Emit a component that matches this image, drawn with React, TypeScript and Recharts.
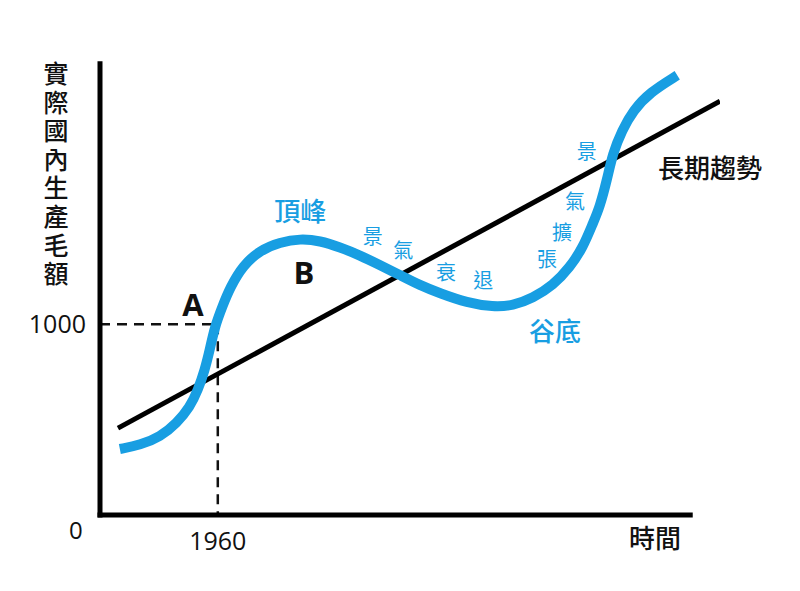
import React from "react";
import { ComposedChart, Line, XAxis, YAxis, ReferenceLine, ReferenceDot } from "recharts";

// business cycle curve (years, real GDP)
const curveYears = [
  1944.2, 1947.5, 1950.7, 1953.4, 1955.5, 1956.8, 1957.9, 1958.7, 1959.5, 1960.7,
  1962.0, 1964.1, 1966.8, 1970.0, 1973.3, 1976.5, 1979.7, 1982.9, 1986.2, 1989.4,
  1992.6, 1995.8, 2000.2, 2004.4, 2007.6, 2010.8, 2014.1, 2016.8, 2018.9, 2020.5,
  2021.6, 2022.8, 2023.7, 2025.2, 2027.0, 2029.7, 2034.1,
];
const curveGdp = [
  346, 367, 409, 482, 566, 655, 760, 865, 985, 1090,
  1194, 1309, 1387, 1429, 1448, 1437, 1403, 1361, 1309, 1257,
  1204, 1162, 1112, 1090, 1097, 1136, 1204, 1298, 1403, 1529,
  1613, 1760, 1895, 2016, 2120, 2215, 2304,
];

// long-term trend
const trendYears = [1943.9, 2041];
const trendGdp = [455, 2168];

const xTicks = [1960];
const yTicks = [1000];
const markYear = 1960;
const markGdp = 1000;

const yTitle = "實際國內生產毛額";

// blue annotations
const cycleTexts = ["頂峰", "谷底", "景", "氣", "衰", "退", "景", "氣", "擴", "張"];
const cycleYears = [1973.3, 2014.4, 1985.0, 1989.9, 1996.8, 2002.8, 2019.5, 2017.6, 2015.5, 2013.1];
const cycleGdp = [1588, 959, 1457, 1384, 1268, 1226, 1903, 1640, 1478, 1336];

// black annotations
const blackTexts = ["A", "B", "長期趨勢", "時間", "0"];
const blackYears = [1956.0, 1973.9, 2039.4, 2030.5, 1937.1];
const blackGdp = [1101, 1268, 1813, -126, -79];

const BLUE = "#189ee2";
const CJK = '"Noto Sans CJK TC", "Noto Sans", sans-serif';
const LATIN = '"Open Sans", "Noto Sans", sans-serif';

const curveData = curveYears.map((x, i) => ({ x, y: curveGdp[i] }));
const trendData = trendYears.map((x, i) => ({ x, y: trendGdp[i] }));

const VerticalTitle = ({ viewBox }: any) => {
  const cx = viewBox.x - 4;
  const top = viewBox.y + 15;
  return (
    <text fontFamily={CJK} fontSize={25} fontWeight={500} fill="#111" textAnchor="middle">
      {yTitle.split("").map((ch, i) => (
        <tspan key={i} x={cx} y={top + i * 28.6} dominantBaseline="central">
          {ch}
        </tspan>
      ))}
    </text>
  );
};

const blackStyle = (t: string) => {
  if (t === "A" || t === "B") return { fontSize: 31, fontWeight: 700, fontFamily: LATIN };
  if (t === "0") return { fontSize: 24, fontWeight: 400, fontFamily: LATIN };
  return { fontSize: 26, fontWeight: 500, fontFamily: CJK };
};

const App = () => {
  return (
    <div style={{ position: "absolute", left: 0, top: 0, width: 800, height: 591, background: "#fff" }}>
      <ComposedChart width={800} height={591} margin={{ top: 57, right: 80, left: 60, bottom: 46 }}>
        <XAxis
          type="number"
          dataKey="x"
          domain={[1941, 2041]}
          ticks={xTicks}
          axisLine={false}
          tickLine={false}
          tickSize={6}
          tickMargin={11}
          height={30}
          tick={{ fill: "#111", fontSize: 25, fontFamily: LATIN }}
          allowDataOverflow
        />
        <YAxis
          type="number"
          dataKey="y"
          domain={[0, 2400]}
          ticks={yTicks}
          axisLine={false}
          tickLine={false}
          tickSize={6}
          tickMargin={8}
          width={40}
          tick={{ fill: "#111", fontSize: 25, fontFamily: LATIN }}
          label={{ content: <VerticalTitle /> }}
          allowDataOverflow
        />

        {/* dashed guide to point A */}
        <ReferenceLine
          segment={[{ x: 1941, y: markGdp }, { x: markYear, y: markGdp }]}
          stroke="#111"
          strokeWidth={2.5}
          strokeDasharray="10 7"
        />
        <ReferenceLine
          segment={[{ x: markYear, y: markGdp }, { x: markYear, y: 0 }]}
          stroke="#111"
          strokeWidth={2.5}
          strokeDasharray="10 7"
        />

        <Line
          data={trendData}
          dataKey="y"
          type="linear"
          stroke="#000"
          strokeWidth={5}
          dot={false}
          activeDot={false}
          isAnimationActive={false}
        />
        <Line
          data={curveData}
          dataKey="y"
          type="basis"
          stroke={BLUE}
          strokeWidth={10}
          dot={false}
          activeDot={false}
          isAnimationActive={false}
        />

        {/* axes */}
        <ReferenceLine
          segment={[{ x: 1941, y: 0 }, { x: 1941, y: 2364 }]}
          stroke="#000"
          strokeWidth={5}
          strokeLinecap="square"
          ifOverflow="visible"
        />
        <ReferenceLine
          segment={[{ x: 1941, y: 0 }, { x: 2036.2, y: 0 }]}
          stroke="#000"
          strokeWidth={5}
          strokeLinecap="square"
          ifOverflow="visible"
        />

        {cycleTexts.map((t, i) => (
          <ReferenceDot
            key={"c" + i}
            x={cycleYears[i]}
            y={cycleGdp[i]}
            r={0}
            ifOverflow="visible"
            label={{
              value: t,
              position: "center",
              fill: BLUE,
              fontSize: t.length > 1 ? 26 : 20,
              fontWeight: t.length > 1 ? 500 : 400,
              fontFamily: CJK,
            }}
          />
        ))}
        {blackTexts.map((t, i) => (
          <ReferenceDot
            key={"b" + i}
            x={blackYears[i]}
            y={blackGdp[i]}
            r={0}
            ifOverflow="visible"
            label={{ value: t, position: "center", fill: "#111", ...blackStyle(t) }}
          />
        ))}
      </ComposedChart>
    </div>
  );
};

export default App;
